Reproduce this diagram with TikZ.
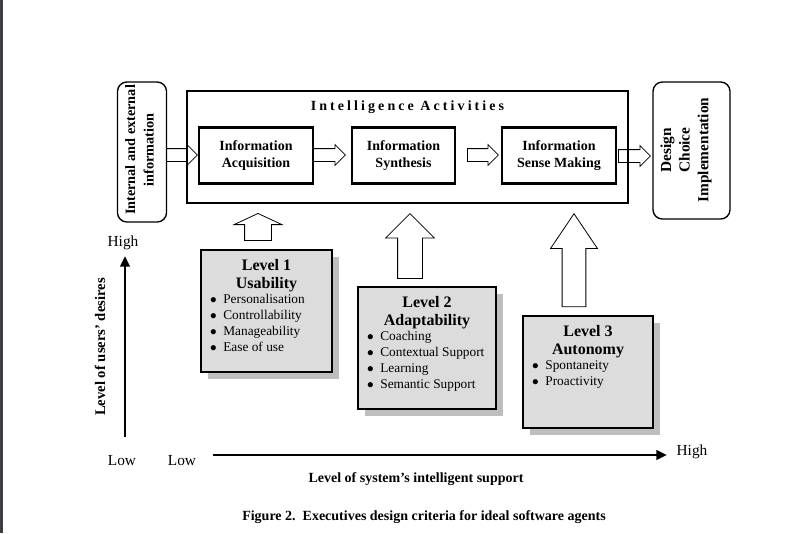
\documentclass[tikz,border=0pt]{standalone}
\usepackage{fontspec}
\setmainfont{Liberation Serif}
\usepackage{tikz}
\usetikzlibrary{positioning, arrows.meta, calc, shapes.arrows, shadows}
\definecolor{levelgray}{HTML}{DCDCDC}
\definecolor{shadowgray}{HTML}{BEBEBE}
\definecolor{edgebar}{HTML}{3B3E44}

\newcommand{\lvlitem}{$\bullet$\hspace{5pt}}

\tikzset{
  sidebox/.style={draw, line width=1pt, rounded corners=7pt},
  sidetext/.style={rotate=90, align=center, inner sep=0pt, font=\bfseries\fontsize{10.7}{14}\selectfont},
  infobox/.style={draw, line width=2pt, minimum height=42pt, align=center, font=\bfseries\fontsize{10.5}{12.75}\selectfont},
  levelbox/.style={draw, line width=0.9pt, fill=levelgray,
    drop shadow={shadow xshift=5.5pt, shadow yshift=-5.5pt, fill=shadowgray, opacity=1}},
  leveltitle/.style={align=center, inner sep=0pt, font=\bfseries\fontsize{12}{13.5}\selectfont},
  levelitems/.style={align=left, inner sep=0pt, font=\fontsize{10}{12}\selectfont},
  hollowarrow/.style={draw, line width=0.6pt, single arrow, single arrow head indent=0pt, inner sep=0pt},
  axisarrow/.style={line width=2pt, -{Triangle[length=8pt,width=7pt]}},
  axislabel/.style={font=\bfseries\fontsize{10.5}{12}\selectfont},
  lowhigh/.style={font=\fontsize{11.5}{13}\selectfont},
}

\begin{document}
\begin{tikzpicture}[x=0.75pt, y=-0.75pt]
  \useasboundingbox (0,0) rectangle (800,533);
  \fill[white] (0,0) rectangle (800,533);
  \fill[edgebar] (0,0) rectangle (3,533);

  % top row
  \node[sidebox, minimum width=36.75pt, minimum height=105pt] (ext) at (142,152) {};
  \node[sidetext] (exttext) at (139.5,150) {Internal and external\\information};
  \node[draw, line width=1.3pt, minimum width=330.75pt, minimum height=84pt] (outer) at (407.5,147) {};
  \node[inner sep=0pt, below=8pt of outer.north,
        font={\bfseries\fontsize{10.5}{12}\selectfont\addfontfeature{LetterSpace=22}}] (outertitle) {Intelligence Activities};
  \node[infobox, minimum width=85.5pt] (acq) at (256,155.5) {Information\\Acquisition};
  \node[infobox, minimum width=77.25pt] (syn) at (403.5,155.5) {Information\\Synthesis};
  \node[infobox, minimum width=85.5pt] (sense) at (559,155.5) {Information\\Sense Making};
  \node[sidebox, minimum width=57.75pt, minimum height=102.75pt] (design) at (691.5,150.5) {};
  \node[sidetext, font=\bfseries\fontsize{11.5}{14}\selectfont] (designtext) at (686,150) {Design\\Choice\\Implementation};

  % arrows along the row
  \node[hollowarrow, minimum height=23.25pt, inner ysep=4.5pt, single arrow head extend=3pt, anchor=tail] (arrowa) at (166,155) {};
  \node[hollowarrow, minimum height=24pt, inner ysep=4.5pt, single arrow head extend=3pt, anchor=tail] (arrowb) at (313,155) {};
  \node[hollowarrow, minimum height=23.25pt, inner ysep=4.5pt, single arrow head extend=3pt, anchor=tail] (arrowc) at (467,155) {};
  \node[hollowarrow, minimum height=24pt, inner ysep=4.5pt, single arrow head extend=3pt, anchor=tail] (arrowd) at (618,156) {};

  % levels
  \node[levelbox, minimum width=98.25pt, minimum height=91.5pt] (lvlone) at (266.5,311) {};
  \node[leveltitle, below=7.5pt of lvlone.north] (lvlonetitle) {Level 1\\Usability};
  \node[levelitems, below right=33.5pt and 7pt of lvlone.north west] (lvloneitems)
    {\lvlitem Personalisation\\\lvlitem Controllability\\
     \lvlitem Manageability\\\lvlitem Ease of use};

  \node[levelbox, minimum width=103.5pt, minimum height=91.5pt] (lvltwo) at (427,348) {};
  \node[leveltitle, below=7.5pt of lvltwo.north] (lvltwotitle) {Level 2\\Adaptability};
  \node[levelitems, below right=33.5pt and 7pt of lvltwo.north west] (lvltwoitems)
    {\lvlitem Coaching\\\lvlitem Contextual Support\\
     \lvlitem Learning\\\lvlitem Semantic Support};

  \node[levelbox, minimum width=97.5pt, minimum height=84pt] (lvlthree) at (588,372) {};
  \node[leveltitle, below=7.5pt of lvlthree.north] (lvlthreetitle) {Level 3\\Autonomy};
  \node[levelitems, below right=33.5pt and 7pt of lvlthree.north west] (lvlthreeitems)
    {\lvlitem Spontaneity\\\lvlitem Proactivity};

  % arrows up into the activities
  \node[hollowarrow, rotate=90, minimum height=20.25pt, inner ysep=9.75pt,
        single arrow head extend=7.9pt, single arrow tip angle=130, anchor=tip] (uparrowa) at (258,213) {};
  \node[hollowarrow, rotate=90, minimum height=48.75pt, inner ysep=9pt,
        single arrow head extend=9pt, single arrow tip angle=90, anchor=tip] (uparrowb) at (410,213) {};
  \node[hollowarrow, rotate=90, minimum height=69.75pt, inner ysep=8.6pt,
        single arrow head extend=8.65pt, single arrow tip angle=68, anchor=tip] (uparrowc) at (574,213) {};

  % axes
  \coordinate (ylow) at (125,437);
  \coordinate (yhigh) at (125,256);
  \coordinate (xlow) at (213,455);
  \coordinate (xhigh) at (667,455);
  \draw[axisarrow] (ylow) -- (yhigh);
  \draw[axisarrow] (xlow) -- (xhigh);
  \node[lowhigh] (yhightext) at (123,243) {High};
  \node[lowhigh] (ylowtext) at (122,461) {Low};
  \node[lowhigh] (xlowtext) at (182,461) {Low};
  \node[lowhigh] (xhightext) at (692,452) {High};
  \node[axislabel, rotate=90, font=\bfseries\fontsize{11}{12}\selectfont] (ytitle) at (100,347) {Level of users' desires};
  \node[axislabel] (xtitle) at (416,479) {Level of system's intelligent support};
  \node[axislabel] (caption) at (424,517) {Figure 2.\ \ Executives design criteria for ideal software agents};
\end{tikzpicture}
\end{document}
